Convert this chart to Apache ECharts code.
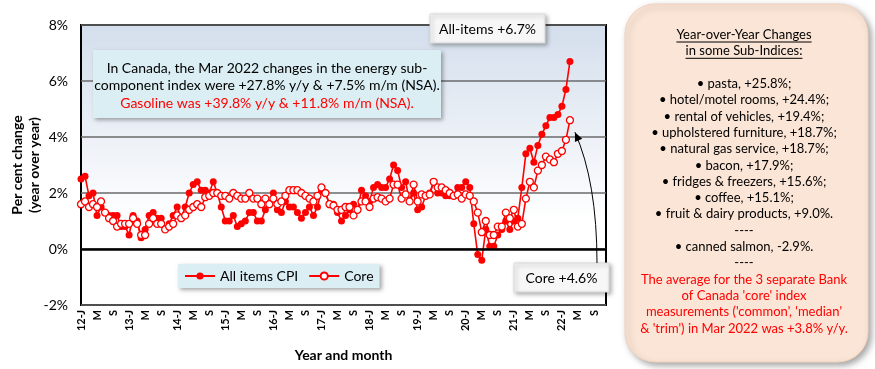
<!DOCTYPE html>
<html><head><meta charset="utf-8">
<script src="https://cdn.jsdelivr.net/npm/echarts@6/dist/echarts.min.js"></script>
<style>html,body{margin:0;padding:0;background:#fff}#c{width:875px;height:369px}</style>
</head><body><div id="c"></div>
<script>
const FONT = 'Lato, "Open Sans", sans-serif';
const years = [2012,2013,2014,2015,2016,2017,2018,2019,2020,2021,2022];
const monthLetters = ['J','F','M','A','M','J','J','A','S','O','N','D'];
const tickEvery = 4; // labels at Jan, May, Sep

// Year-over-year % change, Jan 2012 .. Mar 2022
const allItemsCPI = [
  2.5, 2.6, 1.9, 2.0, 1.2, 1.5, 1.3, 1.2, 1.2, 1.2, 0.8, 0.8,
  0.5, 1.2, 1.0, 0.4, 0.7, 1.2, 1.3, 1.1, 1.1, 0.7, 0.9, 1.2,
  1.5, 1.1, 1.5, 2.0, 2.3, 2.4, 2.1, 2.1, 2.0, 2.4, 2.0, 1.5,
  1.0, 1.0, 1.2, 0.8, 0.9, 1.0, 1.3, 1.3, 1.0, 1.0, 1.4, 1.6,
  2.0, 1.4, 1.3, 1.7, 1.5, 1.5, 1.3, 1.1, 1.3, 1.5, 1.2, 1.5,
  2.1, 2.0, 1.6, 1.6, 1.3, 1.0, 1.2, 1.4, 1.6, 1.4, 2.1, 1.9,
  1.7, 2.2, 2.3, 2.2, 2.2, 2.5, 3.0, 2.8, 2.2, 2.4, 1.7, 2.0,
  1.4, 1.5, 1.9, 2.0, 2.4, 2.0, 2.0, 1.9, 1.9, 1.9, 2.2, 2.2,
  2.4, 2.2, 0.9, -0.2, -0.4, 0.7, 0.1, 0.1, 0.5, 0.7, 1.0, 0.7,
  1.0, 1.1, 2.2, 3.4, 3.6, 3.1, 3.7, 4.1, 4.4, 4.7, 4.7, 4.8,
  5.1, 5.7, 6.7
];
const coreCPI = [
  1.6, 1.7, 1.5, 1.6, 1.5, 1.7, 1.3, 1.1, 1.0, 0.8, 0.9, 0.9,
  0.9, 1.1, 0.9, 0.5, 0.5, 0.9, 1.1, 0.9, 0.9, 0.7, 0.8, 0.9,
  1.2, 1.1, 1.2, 1.4, 1.5, 1.6, 1.5, 1.85, 1.9, 2.0, 2.0, 1.9,
  1.9, 1.8, 2.0, 1.9, 1.8, 1.8, 2.0, 1.8, 1.8, 1.6, 1.8, 1.6,
  1.8, 1.6, 1.7, 1.9, 2.1, 2.1, 2.1, 2.0, 1.9, 1.8, 1.7, 1.9,
  2.2, 2.0, 1.6, 1.55, 1.4, 1.4, 1.5, 1.5, 1.2, 1.4, 1.7, 1.7,
  1.5, 1.8, 1.85, 1.8, 1.7, 1.8, 2.3, 2.3, 1.8, 1.95, 1.7, 2.3,
  1.7, 1.95, 1.9, 1.95, 2.4, 2.2, 2.2, 2.1, 2.0, 1.9, 1.95, 1.8,
  1.95, 1.9, 1.7, 1.3, 0.6, 1.0, 0.5, 0.5, 0.8, 0.8, 1.3, 1.1,
  1.4, 0.8, 0.9, 1.8, 2.4, 2.2, 2.8, 3.0, 3.3, 3.2, 3.1, 3.4,
  3.5, 3.9, 4.6
];

const categories = [];
years.forEach(y => monthLetters.forEach((m, i) => categories.push(y + '-' + (i + 1))));

const panelTitle = ['Year-over-Year Changes', 'in some Sub-Indices:'];
const panelLines = [
  '• pasta, +25.8%;',
  '• hotel/motel rooms, +24.4%;',
  '• rental of vehicles, +19.4%;',
  '• upholstered furniture, +18.7%;',
  '• natural gas service, +18.7%;',
  '• bacon, +17.9%;',
  '• fridges & freezers, +15.6%;',
  '• coffee, +15.1%;',
  '• fruit & dairy products, +9.0%.',
  '----',
  '• canned salmon, -2.9%.',
  '----'
];
const panelRed = [
  'The average for the 3 separate Bank',
  "of Canada 'core' index",
  "measurements ('common', 'median'",
  "& 'trim') in Mar 2022 was +3.8% y/y."
];

const chart = echarts.init(document.getElementById('c'), null, {renderer: 'canvas'});
const option = {
  animation: false,
  backgroundColor: '#fff',
  textStyle: {fontFamily: FONT},
  grid: {
    left: 81, right: 269, top: 25, bottom: 64,
    containLabel: false, outerBoundsMode: 'none',
    show: true, borderColor: '#000', borderWidth: 2,
    backgroundColor: new echarts.graphic.LinearGradient(0, 0, 0, 1, [
      {offset: 0, color: '#d3deec'}, {offset: 0.7, color: '#ffffff'}, {offset: 1, color: '#ffffff'}
    ])
  },
  legend: {
    data: ['All items CPI', 'Core'],
    left: 178, top: 264,
    itemWidth: 30, itemHeight: 9, itemGap: 10,
    padding: [5, 6, 5, 6],
    backgroundColor: '#dbeef4',
    shadowBlur: 4, shadowColor: 'rgba(0,0,0,0.35)', shadowOffsetX: 2, shadowOffsetY: 2,
    textStyle: {fontFamily: FONT, fontSize: 14, color: '#000'}
  },
  xAxis: {
    type: 'category', data: categories, boundaryGap: false,
    axisLine: {show: false}, axisTick: {show: false},
    splitLine: {show: false},
    axisLabel: {
      rotate: 90, margin: 5, fontFamily: FONT, fontSize: 11, fontWeight: 'bold', color: '#000',
      interval: (idx) => idx % tickEvery === 0,
      formatter: (val, idx) => {
        const m = idx % 12, y = years[Math.floor(idx / 12)];
        return m === 0 ? String(y).slice(2) + '-J' : monthLetters[m];
      }
    },
    name: 'Year and month', nameLocation: 'middle', nameGap: 43, nameMoveOverlap: false,
    nameTextStyle: {fontFamily: FONT, fontSize: 14, fontWeight: 'bold', color: '#000'}
  },
  yAxis: {
    type: 'value', min: -2, max: 8, interval: 2,
    axisLine: {show: false}, axisTick: {show: false},
    splitLine: {lineStyle: {color: '#6a6a6a', width: 1.5}},
    axisLabel: {formatter: '{value}%', fontFamily: FONT, fontSize: 14, color: '#000', margin: 13},
    name: 'Per cent change\n(year over year)', nameLocation: 'middle', nameGap: 38, nameMoveOverlap: false,
    nameTextStyle: {fontFamily: FONT, fontSize: 14, fontWeight: 'bold', color: '#000', lineHeight: 17}
  },
  series: [
    {
      name: 'All items CPI', type: 'line', data: allItemsCPI,
      symbol: 'circle', symbolSize: 7, showSymbol: true, showAllSymbol: true,
      lineStyle: {color: '#ff0000', width: 1.6},
      itemStyle: {color: '#ff0000'},
      markLine: {
        silent: true, symbol: 'none', label: {show: false},
        lineStyle: {color: '#000', width: 2.5, type: 'solid'},
        data: [{yAxis: 0}]
      },
      z: 3
    },
    {
      name: 'Core', type: 'line', data: coreCPI,
      symbol: 'circle', symbolSize: 7, showSymbol: true, showAllSymbol: true,
      lineStyle: {color: '#ff0000', width: 1.6},
      itemStyle: {color: '#ffffff', borderColor: '#ff0000', borderWidth: 1.3},
      z: 4
    }
  ]
};
chart.setOption(option);

// measure text widths for underlines
const ctx = document.createElement('canvas').getContext('2d');
ctx.font = '13px ' + FONT;

const panelCX = 744, startY = 35, step = 16.3;
const graphics = [];
graphics.push({
  type: 'rect', shape: {x: 625, y: 4, width: 243, height: 358, r: 30},
  style: {fill: '#fbe5d6', stroke: '#f3d2bd', lineWidth: 1, shadowBlur: 6, shadowColor: 'rgba(0,0,0,0.35)', shadowOffsetX: 3, shadowOffsetY: 3},
  z: 10
});
panelTitle.forEach((t, i) => {
  const y = startY + i * step;
  graphics.push({type: 'text', x: panelCX, y: y, style: {text: t, fill: '#000', font: '13px ' + FONT, textAlign: 'center', textVerticalAlign: 'middle'}, z: 11});
  const w = ctx.measureText(t).width;
  graphics.push({type: 'line', shape: {x1: panelCX - w / 2, y1: y + 7, x2: panelCX + w / 2, y2: y + 7}, style: {stroke: '#000', lineWidth: 1}, z: 11});
});
panelLines.forEach((t, i) => {
  graphics.push({type: 'text', x: panelCX, y: startY + (i + 3) * step, style: {text: t, fill: '#000', font: '13px ' + FONT, textAlign: 'center', textVerticalAlign: 'middle'}, z: 11});
});
panelRed.forEach((t, i) => {
  graphics.push({type: 'text', x: panelCX, y: startY + (i + 15) * step, style: {text: t, fill: '#ff0000', font: '13px ' + FONT, textAlign: 'center', textVerticalAlign: 'middle'}, z: 11});
});

// Energy note box
graphics.push({type: 'rect', shape: {x: 93, y: 50, width: 348, height: 68}, style: {fill: '#daeef3', shadowBlur: 4, shadowColor: 'rgba(0,0,0,0.35)', shadowOffsetX: 2, shadowOffsetY: 2}, z: 10});
[['In Canada, the Mar 2022 changes in the energy sub-', '#000'],
 ['component index were +27.8% y/y & +7.5% m/m (NSA).', '#000'],
 ['Gasoline was +39.8% y/y & +11.8% m/m (NSA).', '#ff0000']].forEach((p, i) => {
  graphics.push({type: 'text', x: 267, y: 68 + i * 17.5, style: {text: p[0], fill: p[1], font: '14px ' + FONT, textAlign: 'center', textVerticalAlign: 'middle'}, z: 11});
});

// All-items callout
graphics.push({type: 'rect', shape: {x: 430, y: 14, width: 115, height: 29}, style: {fill: '#f7f7f7', stroke: '#d9d9d9', lineWidth: 1, shadowBlur: 4, shadowColor: 'rgba(0,0,0,0.3)', shadowOffsetX: 2, shadowOffsetY: 2}, z: 10});
graphics.push({type: 'text', x: 487.5, y: 29, style: {text: 'All-items +6.7%', fill: '#000', font: '14px ' + FONT, textAlign: 'center', textVerticalAlign: 'middle'}, z: 11});

// Core callout
graphics.push({type: 'rect', shape: {x: 514, y: 263, width: 95, height: 29}, style: {fill: '#f7f7f7', stroke: '#d9d9d9', lineWidth: 1, shadowBlur: 4, shadowColor: 'rgba(0,0,0,0.3)', shadowOffsetX: 2, shadowOffsetY: 2}, z: 10});
graphics.push({type: 'text', x: 561.5, y: 278, style: {text: 'Core +4.6%', fill: '#000', font: '14px ' + FONT, textAlign: 'center', textVerticalAlign: 'middle'}, z: 11});

// Arrow to last core point
const lastIdx = coreCPI.length - 1;
const pt = chart.convertToPixel({xAxisIndex: 0, yAxisIndex: 0}, [lastIdx, coreCPI[lastIdx]]);
const tip = [pt[0] + 5, pt[1] + 12];
const start = [597, 263];
const ctrl = [597, 182];
graphics.push({type: 'bezierCurve', shape: {x1: start[0], y1: start[1], x2: tip[0], y2: tip[1], cpx1: ctrl[0], cpy1: ctrl[1]}, style: {stroke: '#000', lineWidth: 1, fill: null}, z: 12});
(function () {
  const dx = tip[0] - ctrl[0], dy = tip[1] - ctrl[1];
  const len = Math.hypot(dx, dy), ux = dx / len, uy = dy / len;
  const L = 9, W = 4;
  const bx = tip[0] - ux * L, by = tip[1] - uy * L;
  graphics.push({type: 'polygon', shape: {points: [tip, [bx - uy * W, by + ux * W], [bx + uy * W, by - ux * W]]}, style: {fill: '#000'}, z: 12});
})();

chart.setOption({graphic: graphics});
</script>
</body></html>
